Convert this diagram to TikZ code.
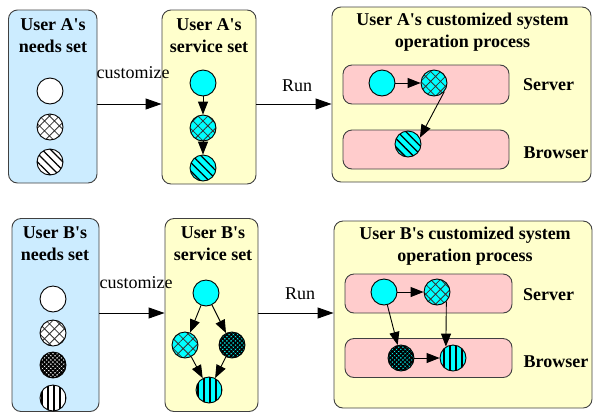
\documentclass[tikz,border=0pt]{standalone}
\usepackage{fontspec}
\setmainfont{Liberation Serif}
\usetikzlibrary{arrows.meta,patterns.meta}
\definecolor{needblue}{HTML}{CCECFF}
\definecolor{setyellow}{HTML}{FFFFCC}
\definecolor{tierpink}{HTML}{FFCCCC}
\definecolor{framegray}{HTML}{404040}
\definecolor{svccyan}{HTML}{00FFFF}
\newcommand{\qs}{\textquotesingle}
\tikzset{
  panel/.style={draw=framegray, line width=0.9pt, rounded corners=9pt, inner sep=0pt},
  needpanel/.style={panel, fill=needblue},
  setpanel/.style={panel, fill=setyellow},
  tier/.style={draw=framegray, line width=0.9pt, fill=tierpink, rounded corners=9pt,
    inner sep=0pt, minimum height=39pt},
  title/.style={font=\fontsize{18}{22}\selectfont\bfseries, align=center, inner sep=0pt},
  tierlabel/.style={font=\fontsize{18}{22}\selectfont\bfseries, inner sep=0pt},
  flowlabel/.style={font=\fontsize{18}{22}\selectfont, inner sep=0pt},
  item/.style={circle, draw=black, line width=0.9pt, minimum size=26pt, inner sep=0pt},
  ground/.style={preaction={fill=#1}},
  plain/.style={item, fill=white},
  svc/.style={item, fill=svccyan},
  grid/.style={pattern={Hatch[angle=45,distance=7pt,line width=0.8pt]}, pattern color=black!80},
  slant/.style={pattern={Lines[angle=-45,distance=6pt,line width=1.3pt]}, pattern color=black},
  dense/.style={pattern={Hatch[angle=45,distance=3pt,line width=1.7pt]}, pattern color=black},
  bars/.style={pattern={Lines[angle=90,distance=6pt,line width=1.4pt]}, pattern color=black},
  flow/.style={-{Triangle[length=16pt,width=11pt]}, line width=0.9pt},
  link/.style={-{Triangle[length=13pt,width=10pt]}, line width=0.9pt},
}
\begin{document}
\begin{tikzpicture}[x=1pt, y=-1pt]
  \useasboundingbox (0,0) rectangle (593,413);

  % ---------------- User A ----------------
  \node[needpanel, minimum width=88.5pt, minimum height=173pt] (needsA) at (52.75,96.5) {};
  \node[setpanel, minimum width=94pt, minimum height=174pt] (svcA) at (209,97) {};
  \node[setpanel, minimum width=259pt, minimum height=175pt] (procA) at (461.5,94.5) {};

  \node[title] (needsAtitle) at (53,36) {User A\qs s\\needs set};
  \node[title] (svcAtitle) at (209,36) {User A\qs s\\service set};
  \node[title] (procAtitle) at (462.5,32.5) {User A\qs s customized system\\operation process};

  \node[tier, minimum width=166pt] (serverA) at (426,84.5) {};
  \node[tier, minimum width=166pt] (browserA) at (426,149.5) {};
  \node[tierlabel] (serverAlabel) at (548.5,85) {Server};
  \node[tierlabel] (browserAlabel) at (556,153) {Browser};

  % needs
  \node[plain] (nA1) at (50,91) {};
  \node[item, ground=white, grid] (nA2) at (50,127) {};
  \node[item, ground=white, slant] (nA3) at (50,162) {};

  % services
  \node[svc] (sA1) at (203,83) {};
  \node[item, ground=svccyan, grid] (sA2) at (203,128) {};
  \node[item, ground=svccyan, slant] (sA3) at (203,168) {};
  \draw[link] (sA1) -- (sA2);
  \draw[link] (sA2) -- (sA3);

  % running system
  \node[svc] (rA1) at (382,83) {};
  \node[item, ground=svccyan, grid] (rA2) at (434,83) {};
  \node[item, ground=svccyan, slant] (rA3) at (408,144) {};
  \draw[link] (rA1) -- (rA2);
  \draw[link] (rA2.-40) -- (rA3.28);

  % flows
  \draw[flow] (needsA.east |- 0,104) -- (svcA.west |- 0,104);
  \draw[flow] (svcA.east |- 0,104) -- (procA.west |- 0,104);
  \node[flowlabel] (custA) at (133,73) {customize};
  \node[flowlabel] (runA) at (297,86) {Run};

  % ---------------- User B ----------------
  \node[needpanel, minimum width=87pt, minimum height=193pt] (needsB) at (55.5,315) {};
  \node[setpanel, minimum width=93pt, minimum height=193pt] (svcB) at (211.5,315) {};
  \node[setpanel, minimum width=258pt, minimum height=187pt] (procB) at (463,314.5) {};

  \node[title] (needsBtitle) at (55,244) {User B\qs s\\needs set};
  \node[title] (svcBtitle) at (213,244) {User B\qs s\\service set};
  \node[title] (procBtitle) at (465,246) {User B\qs s customized system\\operation process};

  \node[tier, minimum width=167pt] (serverB) at (428.5,293.5) {};
  \node[tier, minimum width=167pt] (browserB) at (428.5,358) {};
  \node[tierlabel] (serverBlabel) at (548.5,295) {Server};
  \node[tierlabel] (browserBlabel) at (556,362) {Browser};

  % needs
  \node[plain] (nB1) at (53,299) {};
  \node[item, ground=white, grid] (nB2) at (53,333) {};
  \node[item, ground=white, dense] (nB3) at (53,365) {};
  \node[item, ground=white, bars] (nB4) at (53,398) {};

  % services
  \node[svc] (sB1) at (206,293) {};
  \node[item, ground=svccyan, grid] (sB2) at (185,345) {};
  \node[item, ground=svccyan, dense] (sB3) at (232,345) {};
  \node[item, ground=svccyan, bars] (sB4) at (209,390) {};
  \draw[link] (sB1) -- (sB2);
  \draw[link] (sB1) -- (sB3);
  \draw[link] (sB2) -- (sB4);
  \draw[link] (sB3) -- (sB4);

  % running system
  \node[svc] (rB1) at (384,292) {};
  \node[item, ground=svccyan, grid] (rB2) at (437,292) {};
  \node[item, ground=svccyan, dense] (rB3) at (401,358) {};
  \node[item, ground=svccyan, bars] (rB4) at (453,358) {};
  \draw[link] (rB1) -- (rB2);
  \draw[link] (rB1) -- (rB3);
  \draw[link] (rB2.-46) -- (rB4.122);
  \draw[link] (rB3) -- (rB4);

  % flows
  \draw[flow] (needsB.east |- 0,313) -- (svcB.west |- 0,313);
  \draw[flow] (svcB.east |- 0,313) -- (procB.west |- 0,313);
  \node[flowlabel] (custB) at (136,283) {customize};
  \node[flowlabel] (runB) at (300,294) {Run};
\end{tikzpicture}
\end{document}
